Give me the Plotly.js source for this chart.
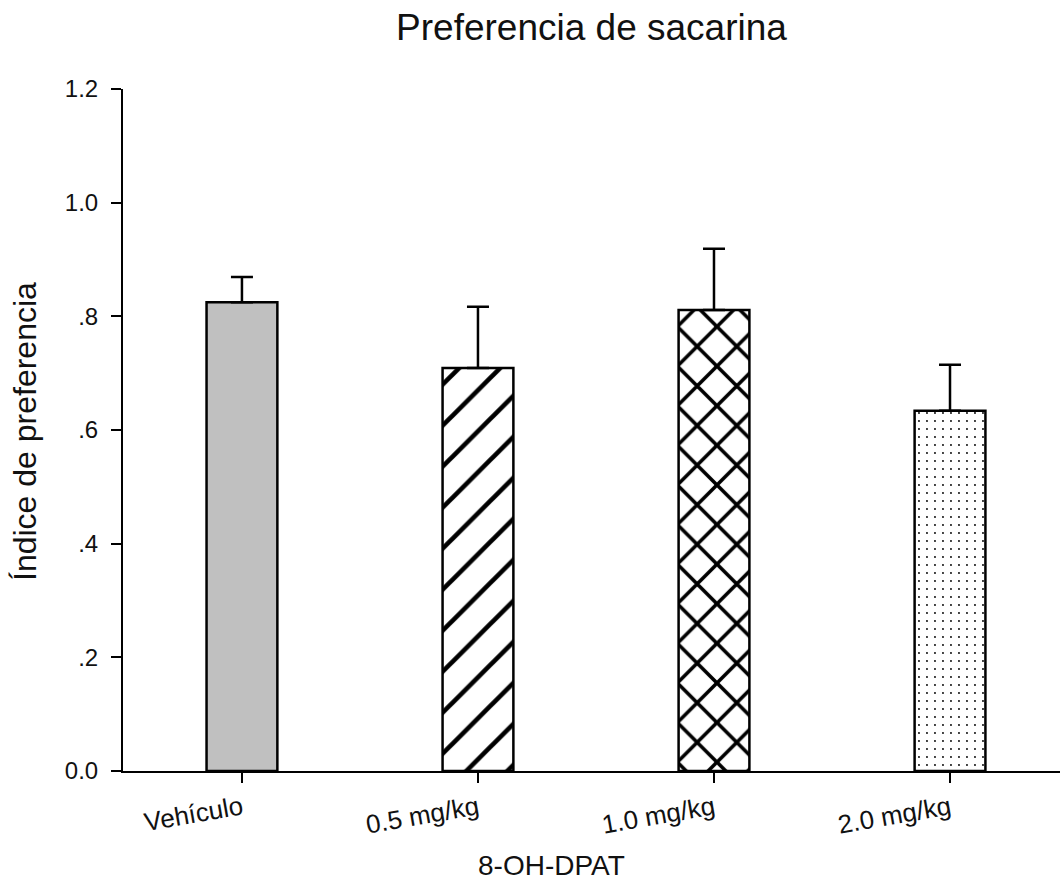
<!DOCTYPE html>
<html>
<head>
<meta charset="utf-8">
<script src="https://cdn.plot.ly/plotly-3.0.1.min.js"></script>
<style>html,body{margin:0;padding:0;background:#fff;}#chart{width:1061px;height:884px;}</style>
</head>
<body>
<div id="chart"></div>
<script>
// Data
const categories = ['Vehículo', '0.5 mg/kg', '1.0 mg/kg', '2.0 mg/kg'];
const values = [0.825, 0.709, 0.811, 0.634];
const errorsUp = [0.044, 0.108, 0.108, 0.081];
const yTickVals = [0, 0.2, 0.4, 0.6, 0.8, 1.0, 1.2];
const yTickText = ['0.0', '.2', '.4', '.6', '.8', '1.0', '1.2'];
const chartTitle = 'Preferencia de sacarina';
const yTitle = 'Índice de preferencia';
const xTitle = '8-OH-DPAT';

const FONT = 'Liberation Sans, Arial, sans-serif';

// Styles per bar
const fills = ['#c0c0c0', '#ffffff', '#ffffff', '#ffffff'];
const patShapes = ['', '/', 'x', '.'];
const patSizes = [10, 29, 28, 8];
const patSolid = [0.1, 0.16, 0.24, 0.045];

const traces = categories.map((c, i) => {
  const marker = {
    color: fills[i],
    line: {color: '#000', width: 2.5}
  };
  if (patShapes[i]) {
    marker.pattern = {
      shape: patShapes[i],
      size: patSizes[i],
      solidity: patSolid[i],
      fgcolor: '#000',
      fgopacity: 1,
      bgcolor: fills[i],
      fillmode: 'overlay'
    };
  }
  return {
    type: 'bar',
    x: [i],
    y: [values[i]],
    width: 0.3,
    marker: marker,
    error_y: {
      type: 'data',
      symmetric: false,
      array: [errorsUp[i]],
      arrayminus: [0],
      color: '#000',
      thickness: 2.5,
      width: 11
    },
    hoverinfo: 'skip',
    name: c
  };
});

const layout = {
  width: 1061,
  height: 884,
  margin: {l: 123, r: 1, t: 89, b: 113, pad: 0},
  paper_bgcolor: '#fff',
  plot_bgcolor: '#fff',
  showlegend: false,
  barmode: 'overlay',
  font: {family: FONT, color: '#111'},
  title: {
    text: chartTitle,
    font: {family: FONT, size: 37, color: '#111'},
    xref: 'paper', x: 0.5, xanchor: 'center',
    yref: 'container', y: 1 - 27/884, yanchor: 'middle'
  },
  xaxis: {
    range: [-0.504, 3.466],
    tickvals: categories.map((_, i) => i),
    ticktext: categories,
    tickangle: -10,
    ticks: 'outside',
    ticklen: 10,
    tickwidth: 2,
    tickcolor: '#000',
    showline: true,
    linecolor: '#000',
    linewidth: 2,
    showgrid: false,
    zeroline: false,
    tickfont: {family: FONT, size: 26, color: '#111'},
    fixedrange: true
  },
  yaxis: {
    range: [0, 1.2],
    tickvals: yTickVals,
    ticktext: yTickText,
    ticks: 'outside',
    ticklen: 10,
    tickwidth: 2,
    tickcolor: '#000',
    showline: true,
    linecolor: '#000',
    linewidth: 2,
    showgrid: false,
    zeroline: false,
    ticklabelstandoff: 8,
    tickfont: {family: FONT, size: 24, color: '#111'},
    fixedrange: true
  },
  shapes: [
    {type: 'line', xref: 'paper', yref: 'paper', x0: -10/937, x1: 0, y0: 0, y1: 0,
     line: {color: '#000', width: 2}}
  ],
  annotations: [
    {text: yTitle, xref: 'paper', yref: 'paper', x: (25 - 123) / 937, y: (771 - 432) / 682,
     xanchor: 'center', yanchor: 'middle', textangle: -90, showarrow: false,
     font: {family: FONT, size: 32, color: '#111'}},
    {text: xTitle, xref: 'paper', yref: 'paper', x: (551 - 123) / 937, y: (771 - 866) / 682,
     xanchor: 'center', yanchor: 'middle', showarrow: false,
     font: {family: FONT, size: 28, color: '#111'}}
  ]
};

Plotly.newPlot('chart', traces, layout, {displayModeBar: false});
</script>
</body>
</html>
